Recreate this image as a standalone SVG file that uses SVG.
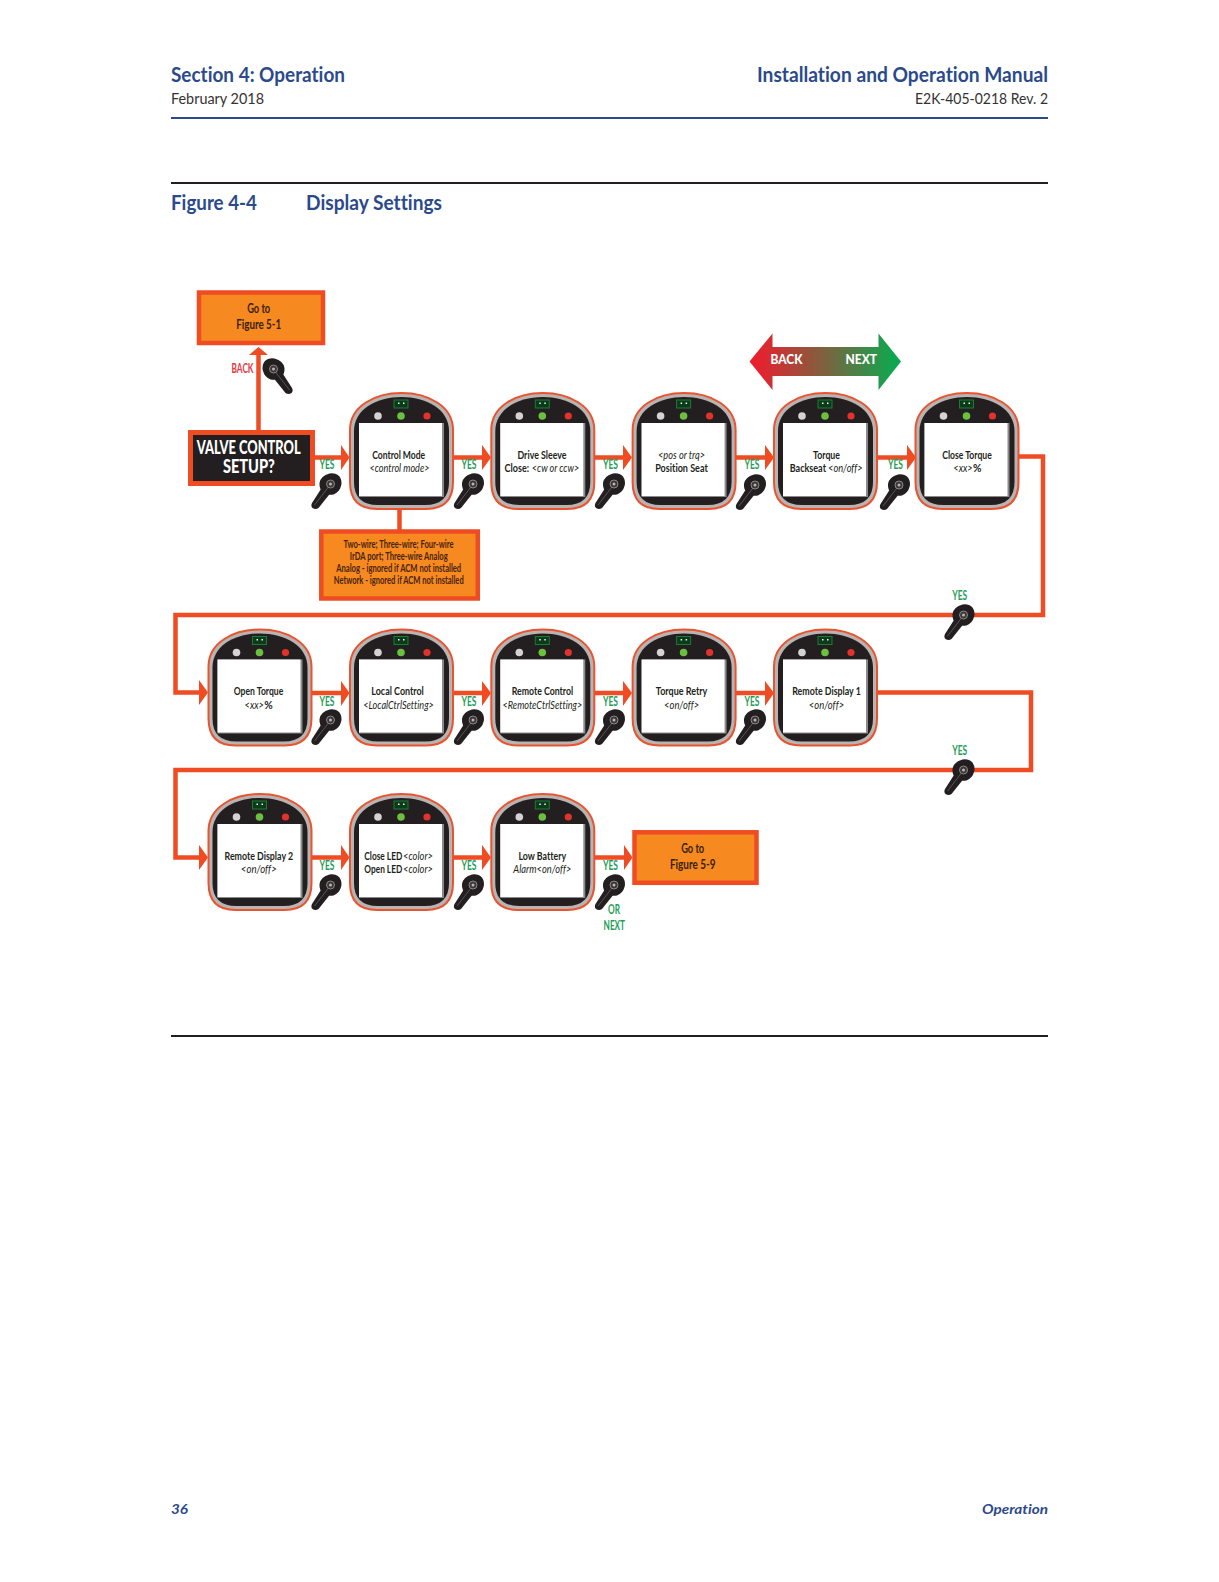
<svg xmlns="http://www.w3.org/2000/svg" xmlns:xlink="http://www.w3.org/1999/xlink" width="1219" height="1582" viewBox="0 0 1219 1582">
<style>
text{font-family:Lato,"Open Sans","Liberation Sans",sans-serif;font-variant-ligatures:none}
.h{font-weight:700;fill:#2a4a8c;font-size:20px}
.s{fill:#333;font-size:15.500px}
.f{font-size:14px;font-style:italic;font-weight:700;fill:#2a4a8c}
.t{font-size:11.500px;font-weight:700;fill:#231f20;text-anchor:middle}
.i{font-style:italic;font-weight:400}
.l{text-anchor:start}
.y{font-size:13px;font-weight:700;fill:#1f9e57;text-anchor:middle}
.b{fill:#f6891f;stroke:#ef4c23;stroke-width:4.500}
.g{font-size:12.500px;font-weight:700;fill:#3a2110;text-anchor:middle}
.n{font-size:10.500px;font-weight:700;fill:#4a2410;text-anchor:middle}
.c{fill:none;stroke:#ef4c23;stroke-width:4.500}
.a{fill:#ef4c23}
</style>
<defs>
<linearGradient id="bn" x1="0" x2="1" y1="0" y2="0"><stop offset="0.05" stop-color="#e8202f"/><stop offset="0.95" stop-color="#10a64f"/></linearGradient>
<symbol id="dev" width="106" height="120" viewBox="0 0 106 120" overflow="visible">
<path d="M1,38C1,14 26,1 52.500,1C79,1 104,14 104,38L104,90Q104,117 77,117L28,117Q1,117 1,90Z" fill="#b9b4b2" stroke="#e9532f" stroke-width="2"/>
<path d="M5,39C5,17 28,5 52.500,5C77,5 100,17 100,39L100,90Q100,113 76,113L29,113Q5,113 5,90Z" fill="#231f20"/>
<rect x="10" y="31" width="85" height="74" fill="#8a8a8a"/>
<rect x="10" y="31" width="83" height="73" fill="#fff"/>
<rect x="45" y="8" width="14" height="8" fill="#0c3a1a" stroke="#1c7a34" stroke-width="1"/>
<rect x="49" y="10.500" width="1.500" height="1.500" fill="#dfe"/><rect x="54" y="10.500" width="1.500" height="1.500" fill="#dfe"/>
<circle cx="29" cy="24" r="3.800" fill="#d4d2d2"/>
<circle cx="52" cy="24" r="3.800" fill="#6cc040"/>
<circle cx="78" cy="24" r="3.600" fill="#e2322c"/>
</symbol>
<g id="knob">
<path d="M-5,-2L4,4L-12,24Q-15,26 -18,24Q-20,22 -18.500,19Z" fill="#231f20"/>
<path d="M-1,-10.500Q5,-11.500 9,-7.500Q12,-3 10.500,2Q9,8 3,10.500Q-3,11.500 -7,9Q-11.500,5 -11,-1Q-10,-8 -1,-10.500Z" fill="#231f20"/>
<path d="M-2,3L-16,21" stroke="#6f6a68" stroke-width="0.700" fill="none"/>
<circle r="4" fill="#3b3738" stroke="#8b8785" stroke-width="1"/><circle r="1.500" fill="#b8b5b3"/>
</g>
</defs>
<rect width="1219" height="1582" fill="#fff"/>

<g id="page">
<text class="h" x="171" y="82" textLength="174" lengthAdjust="spacingAndGlyphs">Section 4: Operation</text>
<text class="s" x="171" y="104" textLength="93" lengthAdjust="spacingAndGlyphs">February 2018</text>
<text class="h" x="757" y="82" textLength="291" lengthAdjust="spacingAndGlyphs">Installation and Operation Manual</text>
<text class="s" x="915" y="104" textLength="133" lengthAdjust="spacingAndGlyphs">E2K-405-0218 Rev. 2</text>
<line x1="171" x2="1048" y1="118" y2="118" stroke="#2a4a8c" stroke-width="2"/>
<line x1="171" x2="1048" y1="183" y2="183" stroke="#231f20" stroke-width="2"/>
<text class="h" x="171" y="210" textLength="86" lengthAdjust="spacingAndGlyphs">Figure 4-4</text>
<text class="h" x="306" y="210" textLength="136" lengthAdjust="spacingAndGlyphs">Display Settings</text>
<line x1="171" x2="1048" y1="1036" y2="1036" stroke="#231f20" stroke-width="2"/>
<text class="f" x="171" y="1514" textLength="17" lengthAdjust="spacingAndGlyphs">36</text>
<text class="f" x="982" y="1514" textLength="66" lengthAdjust="spacingAndGlyphs">Operation</text>
</g>

<g id="connectors">
<path class="c" d="M258.500,431V352M315,457.500H342M453,457.500H483M594,457.500H624M735,457.500H766M876,457.500H908"/>
<path class="a" d="M258.500,347L268,355H249Z"/>
<path class="a" d="M349.500,457.500L341,445V470Z"/>
<path class="a" d="M491,457.500L482,445V470Z"/>
<path class="a" d="M632,457.500L623,445V470Z"/>
<path class="a" d="M774,457.500L765,445V470Z"/>
<path class="a" d="M916,457.500L907,445V470Z"/>
<path class="c" d="M399.500,508V531"/>
<path class="c" d="M1018,456.500H1043V615H175.500V692.500H200"/>
<path class="a" d="M208,692.500L199,680V705Z"/>
<path class="c" d="M312,693H342M453,693H483M594,693H624M735,693H766"/>
<path class="a" d="M349.500,693L341,681V706Z"/>
<path class="a" d="M491,693L482,681V706Z"/>
<path class="a" d="M632,693L623,681V706Z"/>
<path class="a" d="M774,693L765,681V706Z"/>
<path class="c" d="M877,692.500H1031V770H175.500V857.500H200"/>
<path class="a" d="M208,857.500L199,845V870Z"/>
<path class="c" d="M312,857.500H342M453,857.500H483M594,857.500H625"/>
<path class="a" d="M349.500,857.500L341,845V870Z"/>
<path class="a" d="M491,857.500L482,845V870Z"/>
<path class="a" d="M632.500,857.500L624,845V870Z"/>
</g>

<g id="goto51"><rect class="b" x="199" y="292.500" width="124" height="50.500"/>
<text class="g" x="258.700" y="313" textLength="23" lengthAdjust="spacingAndGlyphs">Go to</text>
<text class="g" x="258.700" y="329" textLength="45" lengthAdjust="spacingAndGlyphs">Figure 5-1</text></g>

<g id="setup"><rect x="190.500" y="432.500" width="122" height="51" fill="#231f20" stroke="#ef4c23" stroke-width="5"/>
<text x="248.700" y="454" text-anchor="middle" font-size="19" font-weight="900" fill="#fff" textLength="104" lengthAdjust="spacingAndGlyphs">VALVE CONTROL</text>
<text x="248.900" y="473" text-anchor="middle" font-size="19" font-weight="900" fill="#fff" textLength="52" lengthAdjust="spacingAndGlyphs">SETUP?</text></g>

<g id="note"><rect class="b" x="321.300" y="531.500" width="156.500" height="67"/>
<text class="n" x="398.500" y="548.300" textLength="110" lengthAdjust="spacingAndGlyphs">Two-wire; Three-wire; Four-wire</text>
<text class="n" x="398.700" y="560.300" textLength="98" lengthAdjust="spacingAndGlyphs">IrDA port; Three-wire Analog</text>
<text class="n" x="398.700" y="572.300" textLength="125" lengthAdjust="spacingAndGlyphs">Analog - ignored if ACM not installed</text>
<text class="n" x="398.700" y="584.300" textLength="130" lengthAdjust="spacingAndGlyphs">Network - ignored if ACM not installed</text></g>

<g id="legend"><path d="M749.500,361.500L772.500,333.500V347H878.500V333.500L901,361.500L878.500,390V376H772.500V390Z" fill="url(#bn)"/>
<text x="770.500" y="364" font-size="13.500" font-weight="900" fill="#fff" textLength="32" lengthAdjust="spacingAndGlyphs">BACK</text>
<text x="845.500" y="364" font-size="13.500" font-weight="900" fill="#fff" textLength="31.500" lengthAdjust="spacingAndGlyphs">NEXT</text></g>

<g id="knob-back"><use href="#knob" transform="translate(273.500,369) scale(-1,1)"/>
<text x="242.500" y="372.500" font-size="13" font-weight="700" fill="#e5383f" text-anchor="middle" textLength="22" lengthAdjust="spacingAndGlyphs">BACK</text></g>

<g id="yes-labels">
<text class="y" x="327" y="468.500" textLength="15" lengthAdjust="spacingAndGlyphs">YES</text>
<text class="y" x="469" y="468.500" textLength="15" lengthAdjust="spacingAndGlyphs">YES</text>
<text class="y" x="610.500" y="468.500" textLength="15" lengthAdjust="spacingAndGlyphs">YES</text>
<text class="y" x="752" y="468.500" textLength="15" lengthAdjust="spacingAndGlyphs">YES</text>
<text class="y" x="895.500" y="468.500" textLength="15" lengthAdjust="spacingAndGlyphs">YES</text>
<text class="y" x="959.700" y="600" textLength="15" lengthAdjust="spacingAndGlyphs">YES</text>
<text class="y" x="327" y="706" textLength="15" lengthAdjust="spacingAndGlyphs">YES</text>
<text class="y" x="469" y="706" textLength="15" lengthAdjust="spacingAndGlyphs">YES</text>
<text class="y" x="610.500" y="706" textLength="15" lengthAdjust="spacingAndGlyphs">YES</text>
<text class="y" x="752" y="706" textLength="15" lengthAdjust="spacingAndGlyphs">YES</text>
<text class="y" x="959.700" y="755" textLength="15" lengthAdjust="spacingAndGlyphs">YES</text>
<text class="y" x="327" y="870" textLength="15" lengthAdjust="spacingAndGlyphs">YES</text>
<text class="y" x="469" y="870" textLength="15" lengthAdjust="spacingAndGlyphs">YES</text>
<text class="y" x="610.500" y="870" textLength="15" lengthAdjust="spacingAndGlyphs">YES</text>
<text class="y" x="614" y="913.500" textLength="12" lengthAdjust="spacingAndGlyphs">OR</text>
<text class="y" x="614.300" y="929.500" textLength="21.500" lengthAdjust="spacingAndGlyphs">NEXT</text>
</g>

<g id="knobs">
<use href="#knob" x="330.500" y="484"/><use href="#knob" x="473" y="484"/><use href="#knob" x="614" y="484"/><use href="#knob" x="755" y="485"/><use href="#knob" x="899" y="485"/>
<use href="#knob" x="963.500" y="615"/>
<use href="#knob" x="330.500" y="720"/><use href="#knob" x="473" y="720"/><use href="#knob" x="614" y="720"/><use href="#knob" x="755" y="720"/>
<use href="#knob" x="963.500" y="770"/>
<use href="#knob" x="330.500" y="885"/><use href="#knob" x="473" y="885"/><use href="#knob" x="614" y="885"/>
</g>

<g id="d-control-mode"><use href="#dev" x="349" y="392"/>
<text class="t" x="398.700" y="458.700" textLength="53" lengthAdjust="spacingAndGlyphs">Control Mode</text>
<text class="t i" x="399.500" y="471.700" textLength="60" lengthAdjust="spacingAndGlyphs">&lt;control mode&gt;</text></g>
<g id="d-drive-sleeve"><use href="#dev" x="490.300" y="392"/>
<text class="t" x="542" y="458.700" textLength="49" lengthAdjust="spacingAndGlyphs">Drive Sleeve</text>
<text class="t l" transform="translate(504.600,471.700) scale(.8,1)" textLength="30.500" lengthAdjust="spacingAndGlyphs">Close:</text>
<text class="t i l" transform="translate(531.800,471.700) scale(.8,1)" textLength="59.200" lengthAdjust="spacingAndGlyphs">&lt;cw or ccw&gt;</text></g>
<g id="d-seat"><use href="#dev" x="631.600" y="392"/>
<text class="t i" x="681.500" y="458.700" textLength="47" lengthAdjust="spacingAndGlyphs">&lt;pos or trq&gt;</text>
<text class="t" x="681.500" y="471.700" textLength="52.500" lengthAdjust="spacingAndGlyphs">Position Seat</text></g>
<g id="d-backseat"><use href="#dev" x="773" y="392"/>
<text class="t" x="826.500" y="458.700" textLength="27" lengthAdjust="spacingAndGlyphs">Torque</text>
<text class="t l" transform="translate(789.700,471.700) scale(.75,1)" textLength="48.400" lengthAdjust="spacingAndGlyphs">Backseat</text>
<text class="t i l" transform="translate(828,471.700) scale(.85,1)" textLength="40.800" lengthAdjust="spacingAndGlyphs">&lt;on/off&gt;</text></g>
<g id="d-close-torque"><use href="#dev" x="914.500" y="392"/>
<text class="t" x="967" y="458.700" textLength="49.500" lengthAdjust="spacingAndGlyphs">Close Torque</text>
<text class="t i l" transform="translate(953.300,471.700) scale(.85,1)" textLength="22.800" lengthAdjust="spacingAndGlyphs">&lt;xx&gt;</text>
<text class="t l" x="973" y="471.700" textLength="8.500" lengthAdjust="spacingAndGlyphs">%</text></g>

<g id="d-open-torque"><use href="#dev" x="207.500" y="628.500"/>
<text class="t" x="258.500" y="695.200" textLength="49.500" lengthAdjust="spacingAndGlyphs">Open Torque</text>
<text class="t i l" transform="translate(244.500,708.500) scale(.85,1)" textLength="22.800" lengthAdjust="spacingAndGlyphs">&lt;xx&gt;</text>
<text class="t l" x="264.200" y="708.500" textLength="8.500" lengthAdjust="spacingAndGlyphs">%</text></g>
<g id="d-local"><use href="#dev" x="349" y="628.500"/>
<text class="t" x="397.600" y="695.200" textLength="52.500" lengthAdjust="spacingAndGlyphs">Local Control</text>
<text class="t i" x="398.600" y="708.500" textLength="70.500" lengthAdjust="spacingAndGlyphs">&lt;LocalCtrlSetting&gt;</text></g>
<g id="d-remote"><use href="#dev" x="490.300" y="628.500"/>
<text class="t" x="542.400" y="695.200" textLength="61.500" lengthAdjust="spacingAndGlyphs">Remote Control</text>
<text class="t i" x="542.400" y="708.500" textLength="79.700" lengthAdjust="spacingAndGlyphs">&lt;RemoteCtrlSetting&gt;</text></g>
<g id="d-retry"><use href="#dev" x="631.600" y="628.500"/>
<text class="t" x="681.600" y="695.200" textLength="51.500" lengthAdjust="spacingAndGlyphs">Torque Retry</text>
<text class="t i" x="681.600" y="708.500" textLength="35" lengthAdjust="spacingAndGlyphs">&lt;on/off&gt;</text></g>
<g id="d-rd1"><use href="#dev" x="773" y="628.500"/>
<text class="t" x="826.500" y="695.200" textLength="68.600" lengthAdjust="spacingAndGlyphs">Remote Display 1</text>
<text class="t i" x="826.500" y="708.500" textLength="35.300" lengthAdjust="spacingAndGlyphs">&lt;on/off&gt;</text></g>

<g id="d-rd2"><use href="#dev" x="207.500" y="793"/>
<text class="t" x="258.800" y="859.700" textLength="68.600" lengthAdjust="spacingAndGlyphs">Remote Display 2</text>
<text class="t i" x="258.800" y="873.300" textLength="36" lengthAdjust="spacingAndGlyphs">&lt;on/off&gt;</text></g>
<g id="d-led"><use href="#dev" x="349" y="793"/>
<text class="t l" transform="translate(364.300,859.700) scale(.72,1)" textLength="52.800" lengthAdjust="spacingAndGlyphs">Close LED</text>
<text class="t i l" transform="translate(403,859.700) scale(.85,1)" textLength="35.300" lengthAdjust="spacingAndGlyphs">&lt;color&gt;</text>
<text class="t l" transform="translate(364.300,873.300) scale(.72,1)" textLength="52.800" lengthAdjust="spacingAndGlyphs">Open LED</text>
<text class="t i l" transform="translate(403,873.300) scale(.85,1)" textLength="35.300" lengthAdjust="spacingAndGlyphs">&lt;color&gt;</text></g>
<g id="d-battery"><use href="#dev" x="490.300" y="793"/>
<text class="t" x="542.300" y="859.700" textLength="47.700" lengthAdjust="spacingAndGlyphs">Low Battery</text>
<text class="t i" x="528.300" y="873.300" text-anchor="middle" textLength="58" lengthAdjust="spacingAndGlyphs" dx="14">Alarm&lt;on/off&gt;</text></g>

<g id="goto59"><rect class="b" x="634.500" y="832.300" width="122" height="50.500"/>
<text class="g" x="692.700" y="852.700" textLength="23" lengthAdjust="spacingAndGlyphs">Go to</text>
<text class="g" x="692.700" y="868.500" textLength="45.500" lengthAdjust="spacingAndGlyphs">Figure 5-9</text></g>
</svg>
